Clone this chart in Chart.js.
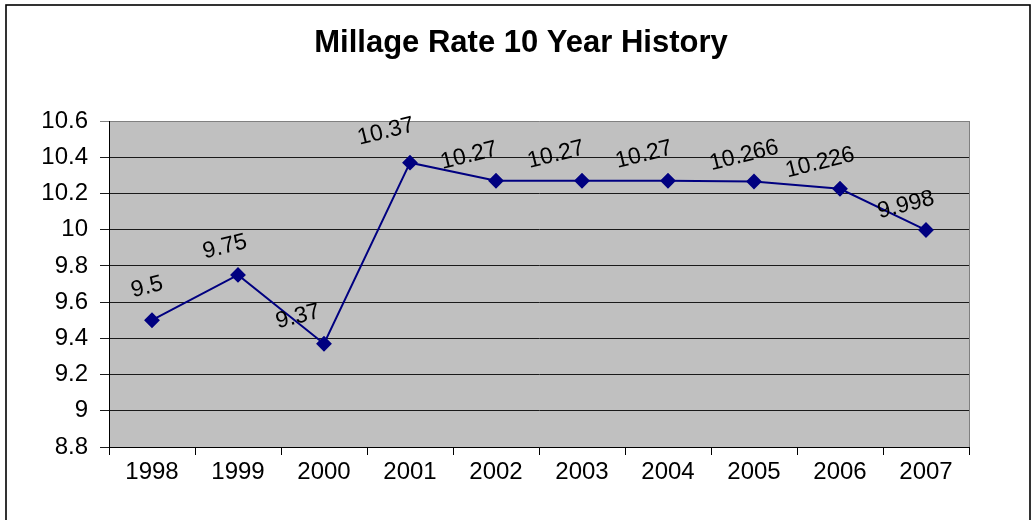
<!DOCTYPE html>
<html>
<head>
<meta charset="utf-8">
<title>Millage Rate 10 Year History</title>
<script src="https://cdn.jsdelivr.net/npm/chart.js@4/dist/chart.umd.min.js"></script>
<style>
  html, body { margin: 0; padding: 0; background: #ffffff; }
  #wrap { width: 1032px; height: 520px; position: relative; }
</style>
</head>
<body>
<div id="wrap"><canvas id="chart" width="1032" height="520"></canvas></div>
<script>
// Millage rate by year
const years = ['1998', '1999', '2000', '2001', '2002', '2003', '2004', '2005', '2006', '2007'];
const millageRates = [9.5, 9.75, 9.37, 10.37, 10.27, 10.27, 10.27, 10.266, 10.226, 9.998];
const yTickValues = [8.8, 9, 9.2, 9.4, 9.6, 9.8, 10, 10.2, 10.4, 10.6];
const chartTitle = 'Millage Rate 10 Year History';

const FONT = '"Liberation Sans", Arial, sans-serif';

// White page, outer frame, title and grey plot area
const framePlugin = {
  id: 'frame',
  beforeDraw(chart, args, opts) {
    const { ctx, chartArea: a } = chart;
    ctx.save();
    ctx.fillStyle = '#ffffff';
    ctx.fillRect(0, 0, chart.width, chart.height);
    ctx.strokeStyle = '#000000';
    ctx.lineWidth = 1.6;
    ctx.strokeRect(6, 5, 1024, 530);
    ctx.fillStyle = '#c0c0c0';
    ctx.fillRect(a.left, a.top, a.right - a.left, a.bottom - a.top);
    // title, centred over the whole frame
    ctx.fillStyle = '#000000';
    ctx.font = opts.titleFont;
    ctx.textAlign = 'center';
    ctx.textBaseline = 'alphabetic';
    ctx.fillText(opts.title, opts.titleX, opts.titleBaseline);
    ctx.restore();
  },
  beforeDatasetsDraw(chart) {
    const { ctx, chartArea: a } = chart;
    ctx.save();
    ctx.strokeStyle = '#808080';
    ctx.lineWidth = 1;
    ctx.beginPath();
    ctx.moveTo(Math.round(a.right) + 0.5, a.top);
    ctx.lineTo(Math.round(a.right) + 0.5, a.bottom);
    ctx.stroke();
    ctx.restore();
  }
};

// Tilted value labels above each point
const valueLabelPlugin = {
  id: 'valueLabels',
  afterDatasetsDraw(chart, args, opts) {
    const { ctx } = chart;
    const meta = chart.getDatasetMeta(0);
    const values = chart.data.datasets[0].data;
    ctx.save();
    ctx.font = opts.font;
    ctx.fillStyle = opts.color;
    ctx.textAlign = 'center';
    ctx.textBaseline = 'middle';
    meta.data.forEach((pt, i) => {
      const [dx, dy] = opts.offsets[i];
      ctx.save();
      ctx.translate(pt.x + dx, pt.y + dy);
      ctx.rotate(opts.angle * Math.PI / 180);
      ctx.fillText(String(values[i]), 0, 0);
      ctx.restore();
    });
    ctx.restore();
  }
};

new Chart(document.getElementById('chart'), {
  type: 'line',
  data: {
    labels: years,
    datasets: [{
      data: millageRates,
      borderColor: '#000080',
      backgroundColor: '#000080',
      borderWidth: 2,
      pointStyle: 'rectRot',
      pointRadius: 6.5,
      pointHoverRadius: 6.5,
      pointBackgroundColor: '#000080',
      pointBorderColor: '#000080',
      tension: 0,
      fill: false
    }]
  },
  options: {
    responsive: false,
    animation: false,
    devicePixelRatio: 1,
    layout: { padding: { top: 121, right: 63, bottom: 0, left: 0 } },
    plugins: {
      legend: { display: false },
      tooltip: { enabled: false },
      title: { display: false },
      frame: {
        title: chartTitle,
        titleFont: 'bold 31px ' + FONT,
        titleX: 521,
        titleBaseline: 52
      },
      valueLabels: {
        font: '23px ' + FONT,
        color: '#000000',
        angle: -14,
        offsets: [[-5, -33], [-13, -28], [-26, -27], [-24, -31], [-27, -25],
                  [-26, -26], [-24, -26], [-10, -26], [-20, -26], [-20, -25]]
      }
    },
    scales: {
      x: {
        type: 'category',
        offset: true,
        afterFit(scale) { scale.height = 73; },
        grid: {
          offset: true,
          drawOnChartArea: false,
          drawTicks: true,
          tickLength: 8,
          color: '#000000',
          lineWidth: 1
        },
        border: { display: true, color: '#000000', width: 1 },
        ticks: {
          color: '#000000',
          font: { family: FONT, size: 24 },
          padding: 3,
          maxRotation: 0,
          autoSkip: false
        }
      },
      y: {
        min: 8.8,
        max: 10.6,
        afterFit(scale) { scale.width = 109; },
        afterBuildTicks(scale) {
          scale.ticks = yTickValues.map(v => ({ value: v }));
        },
        grid: {
          drawTicks: true,
          tickLength: 9,
          color: (c) => (c.tick && c.tick.value === 10.6 ? '#808080' : '#1a1a1a'),
          lineWidth: 1
        },
        border: { display: true, color: '#000000', width: 1 },
        ticks: {
          color: '#000000',
          font: { family: FONT, size: 24 },
          padding: 12,
          callback: (v) => String(v)
        }
      }
    }
  },
  plugins: [framePlugin, valueLabelPlugin]
});
</script>
</body>
</html>
